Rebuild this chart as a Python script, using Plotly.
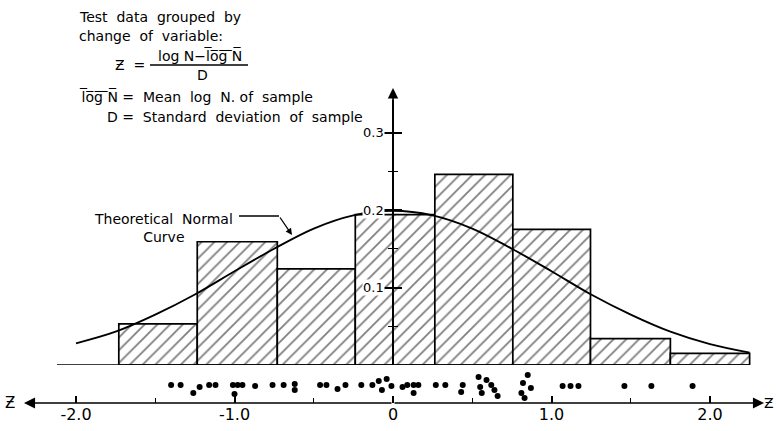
import plotly.graph_objects as go

# ---------------- data ----------------
# histogram bin edges (z) and relative frequencies
bin_edges = [-1.73, -1.235, -0.73, -0.238, 0.264, 0.756, 1.246, 1.75, 2.25]
freq = [0.053, 0.159, 0.124, 0.194, 0.246, 0.175, 0.034, 0.015]

# theoretical normal curve
curve_z = [-2.0, -1.75, -1.5, -1.25, -1.0, -0.75, -0.5, -0.25, 0.0,
           0.25, 0.5, 0.75, 1.0, 1.25, 1.5, 1.75, 2.0, 2.25]
curve_f = [0.028, 0.043, 0.065, 0.091, 0.121, 0.150, 0.176, 0.193, 0.199,
           0.193, 0.176, 0.150, 0.121, 0.091, 0.065, 0.043, 0.027, 0.016]

# individual test points (z) and their stacking offset in the dot strip
dot_z = [-1.40, -1.34, -1.26, -1.22, -1.16, -1.12, -1.01, -1.00, -0.98, -0.95,
         -0.87, -0.76, -0.69, -0.62, -0.62, -0.46, -0.42, -0.35, -0.30, -0.20,
         -0.13, -0.09, -0.07, -0.04, -0.01, 0.06, 0.09, 0.13, 0.16, 0.13,
         0.27, 0.33, 0.44, 0.43, 0.54, 0.55, 0.56, 0.59, 0.62, 0.64,
         0.66, 0.82, 0.85, 0.87, 0.81, 0.83, 1.07, 1.12, 1.17, 1.46,
         1.63, 1.89]
dot_lvl = [0, 0, -8, -2, 0, 0, 0, -9, 0, 0,
           -1, 0, 0, 1, -5, 0, 0, -4, 0, 0,
           0, 4, -5, 6, -1, -2, 0, 0, 0, -8,
           0, 0, 0, -7, 8, -2, -8, 5, 0, -5,
           -11, 2, 10, -3, -8, -13, -1, -1, -1, -1,
           -1, -1]

x_ticks = [-2, -1, 0, 1, 2]
x_tick_text = ["-2.0", "-1.0", "0", "1.0", "2.0"]
x_minor = [-1.5, -0.5, 0.5, 1.5]
y_ticks = [0.1, 0.2, 0.3]
y_tick_text = ["0.1", "0.2", "0.3"]
y_minor = [0.05, 0.15, 0.25]

# ---------------- geometry ----------------
W, H = 776, 431
PLOT_BOTTOM = 403          # pixel row of the z axis
X0_PX, X_SCALE = 393.0, 158.5
Y0_PX, Y_SCALE = 365.0, 775.0
x_range = [(0 - X0_PX) / X_SCALE, (W - X0_PX) / X_SCALE]
y_top_px = 100
y_dom = [(PLOT_BOTTOM - Y0_PX) / PLOT_BOTTOM, (PLOT_BOTTOM - y_top_px) / PLOT_BOTTOM]
y_range = [0, (Y0_PX - y_top_px) / Y_SCALE]
y3_range = [-18, 20]


def px(xp):
    return xp / W


def py(yp):
    return (PLOT_BOTTOM - yp) / PLOT_BOTTOM


def zx(xp):
    return (xp - X0_PX) / X_SCALE


def fy(yp):
    return (Y0_PX - yp) / Y_SCALE


centers = [(a + b) / 2 for a, b in zip(bin_edges[:-1], bin_edges[1:])]
widths = [b - a for a, b in zip(bin_edges[:-1], bin_edges[1:])]

FONT = "DejaVu Sans"

fig = go.Figure()
fig.add_trace(go.Bar(
    x=centers, y=freq, width=widths, xaxis="x", yaxis="y",
    marker=dict(color="white",
                line=dict(color="black", width=1.7),
                pattern=dict(shape="/", size=9, solidity=0.2,
                             fgcolor="black", bgcolor="white")),
    showlegend=False, hoverinfo="skip"))
fig.add_trace(go.Scatter(
    x=curve_z, y=curve_f, mode="lines", xaxis="x", yaxis="y2",
    line=dict(color="black", width=1.9, shape="spline"),
    showlegend=False, hoverinfo="skip"))
fig.add_trace(go.Scatter(
    x=dot_z, y=dot_lvl, mode="markers", xaxis="x", yaxis="y3",
    marker=dict(color="black", size=6),
    showlegend=False, hoverinfo="skip"))

axis_common = dict(showgrid=False, zeroline=False)
fig.update_layout(
    width=W, height=H,
    margin=dict(l=0, r=0, t=0, b=H - PLOT_BOTTOM, pad=0),
    paper_bgcolor="white", plot_bgcolor="rgba(0,0,0,0)",
    font=dict(family=FONT, color="black"),
    xaxis=dict(range=x_range, domain=[0, 1], anchor="y3",
               showline=False, ticks="inside", ticklen=7, tickwidth=1.6,
               tickcolor="black", tickvals=x_ticks, ticktext=x_tick_text,
               tickfont=dict(size=16, family=FONT),
               minor=dict(tickvals=x_minor, ticks="inside", ticklen=5,
                          tickwidth=1.4, tickcolor="black"),
               **axis_common),
    yaxis=dict(range=y_range, domain=y_dom, anchor="free",
               position=X0_PX / W, side="left",
               showline=True, linewidth=1.6, linecolor="black",
               ticks="outside", ticklen=8, tickwidth=1.6, tickcolor="black",
               tickvals=y_ticks, showticklabels=False,
               minor=dict(tickvals=y_minor, ticks="outside", ticklen=4,
                          tickwidth=1.4, tickcolor="black"),
               **axis_common),
    yaxis2=dict(range=y_range, overlaying="y", anchor="free",
                position=X0_PX / W, side="left", showline=False,
                ticks="inside", ticklen=8, tickwidth=1.6, tickcolor="black",
                tickvals=y_ticks, showticklabels=False,
                minor=dict(tickvals=y_minor, ticks="inside", ticklen=4,
                           tickwidth=1.4, tickcolor="black"),
                **axis_common),
    yaxis3=dict(range=y3_range, domain=[0, y_dom[0]], anchor="x",
                visible=False, **axis_common),
)

# histogram baseline
fig.add_shape(type="line", xref="x", yref="y", x0=zx(57), x1=bin_edges[-1],
              y0=0, y1=0, line=dict(color="black", width=1.7))

ann = []
# y tick labels with a white backing (the drawing clears the hatch there)
for v, t in zip(y_ticks, y_tick_text):
    ann.append(dict(x=px(385), y=v, xref="paper", yref="y", text=t,
                    showarrow=False, font=dict(size=13), xanchor="right",
                    yanchor="middle", bgcolor="white", borderpad=0))
# z axis with arrows both ways
for head_px in (24, 764):
    ann.append(dict(x=zx(head_px), y=y3_range[0], xref="x", yref="y3",
                    ax=0, ay=y3_range[0], axref="x", ayref="y3",
                    text="", showarrow=True, arrowhead=2, arrowsize=1.3,
                    arrowwidth=1.7, arrowcolor="black", standoff=0))
# vertical arrow
ann.append(dict(x=0, y=fy(88), xref="x", yref="y", ax=0, ay=0.3,
                axref="x", ayref="y", text="", showarrow=True, arrowhead=2,
                arrowsize=1.3, arrowwidth=1.6, arrowcolor="black"))
# axis end labels
ann.append(dict(x=px(10), y=py(403), xref="paper", yref="paper", text="Ƶ",
                showarrow=False, font=dict(size=15), xanchor="center",
                yanchor="middle"))
ann.append(dict(x=px(776), y=py(403), xref="paper", yref="paper", text="Ƶ",
                showarrow=False, font=dict(size=14), xanchor="right",
                yanchor="middle"))

OV = "\u0305"
logN_bar = "".join(c + OV for c in "log\u00a0N")

text_items = [
    ("Test  data  grouped  by", 77, 17, "left"),
    ("change  of  variable:", 77, 36, "left"),
    ("Ƶ  =", 113, 65, "left"),
    ("log N\u2212" + logN_bar, 200, 56, "center"),
    ("D", 202, 75, "center"),
    (logN_bar + " =  Mean  log  N. of  sample", 77, 96, "left"),
    ("D =  Standard  deviation  of  sample", 105, 117, "left"),
]
for t, xp, yp, anc in text_items:
    ann.append(dict(x=px(xp), y=py(yp), xref="paper", yref="paper", text=t,
                    showarrow=False, font=dict(size=14), xanchor=anc,
                    yanchor="middle"))
# fraction bar
fig.add_shape(type="line", xref="paper", yref="paper", x0=px(150), x1=px(248),
              y0=py(65), y1=py(65), line=dict(color="black", width=1.5))

# Theoretical Normal Curve label with leader
ann.append(dict(x=px(163), y=py(228), xref="paper", yref="paper",
                text="Theoretical  Normal<br>Curve", showarrow=False,
                font=dict(size=14), xanchor="center", yanchor="middle",
                align="center"))
fig.add_shape(type="line", xref="paper", yref="paper", x0=px(239), x1=px(279),
              y0=py(216), y1=py(216), line=dict(color="black", width=1.3))
ann.append(dict(x=px(292), y=py(235), xref="paper", yref="paper",
                ax=-13, ay=-19, text="", showarrow=True, arrowhead=2,
                arrowsize=1, arrowwidth=1.3, arrowcolor="black"))

fig.update_layout(annotations=ann)
fig.write_html("out.html")
